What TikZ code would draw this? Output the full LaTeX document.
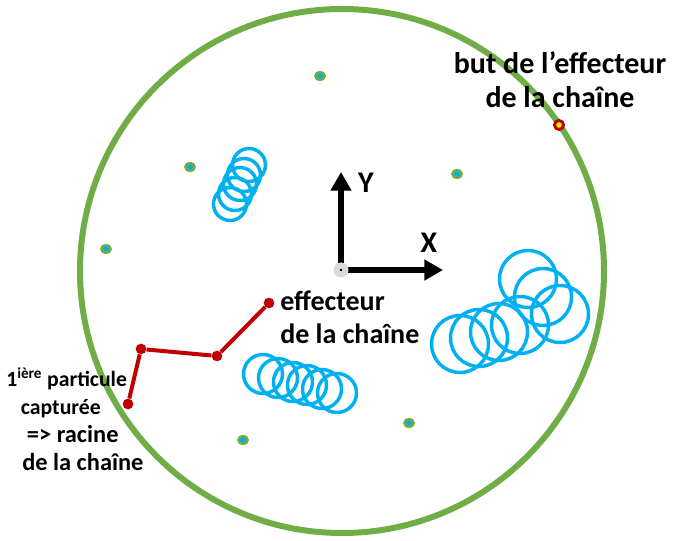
\documentclass[tikz,border=0pt]{standalone}
\usepackage{fontspec}
\setmainfont{Carlito}
\usepackage{xcolor}
\usepackage{tikz}
\usetikzlibrary{arrows.meta}

\definecolor{ringgreen}{HTML}{70AD47}
\definecolor{partblue}{HTML}{00B0F0}
\definecolor{chainred}{HTML}{C00000}
\definecolor{origingrey}{HTML}{D9D9D9}

\tikzset{
  lbl/.style={font=\fontsize{21}{24.5}\selectfont\bfseries, inner sep=0pt},
  goallbl/.style={font=\fontsize{22.5}{25.5}\selectfont\bfseries, inner sep=0pt},
  smalllbl/.style={font=\fontsize{16.3}{21}\selectfont\bfseries, inner sep=0pt},
  axis/.style={line width=4.5pt, -{Triangle[length=14pt,width=15pt]}},
  joint/.style={circle, fill=chainred, inner sep=0pt, minimum size=8pt},
  chain/.style={chainred, line width=3pt},
  swarm/.style={partblue, line width=2.6pt},
}

\begin{document}
\begin{tikzpicture}[x=0.75pt,y=-0.75pt]
		\useasboundingbox (0,0) rectangle (685,541);
		% search space
		\draw[ringgreen, line width=4.5pt] (342,271) circle (262);
		% particles (small)
		\fill[ringgreen] (320,76) ellipse (6 and 5);   \fill[partblue] (320,76) ellipse (3 and 2.5);
		\fill[ringgreen] (190,167) ellipse (6 and 5);  \fill[partblue] (190,167) ellipse (3 and 2.5);
		\fill[ringgreen] (457,174) ellipse (6 and 5);  \fill[partblue] (457,174) ellipse (3 and 2.5);
		\fill[ringgreen] (106,249) ellipse (6 and 5);  \fill[partblue] (106,249) ellipse (3 and 2.5);
		\fill[ringgreen] (409,423) ellipse (6 and 5);  \fill[partblue] (409,423) ellipse (3 and 2.5);
		\fill[ringgreen] (243,440) ellipse (6 and 5);  \fill[partblue] (243,440) ellipse (3 and 2.5);
		% swarms
		\draw[swarm] (249,165) circle (16.5);
		\draw[swarm] (244,175) circle (16.5);
		\draw[swarm] (240,184) circle (16.5);
		\draw[swarm] (235,194) circle (16.5);
		\draw[swarm] (230,204) circle (16.5);
		\draw[swarm] (263,374) circle (19.5);
		\draw[swarm] (278,378) circle (19.5);
		\draw[swarm] (293,382) circle (19.5);
		\draw[swarm] (307,385) circle (19.5);
		\draw[swarm] (322,389) circle (19.5);
		\draw[swarm] (337,393) circle (19.5);
		\draw[swarm] (528,279) circle (28.5);
		\draw[swarm] (543,297) circle (28.5);
		\draw[swarm] (560,314) circle (28.5);
		\draw[swarm] (520,325) circle (28.5);
		\draw[swarm] (499,332) circle (28.5);
		\draw[swarm] (479,338) circle (28.5);
		\draw[swarm] (460,344) circle (28.5);
		% frame
		\coordinate (O) at (341,270);
		\coordinate (xend) at (443,270);
		\coordinate (yend) at (341,172);
		\draw[axis] (O) -- (xend);
		\draw[axis] (O) -- (yend);
		\fill[origingrey] (O) circle (7.5);
		\fill[black] (O) circle (1.3);
		\node[goallbl] (xlab) at (429,243) {X};
		\node[goallbl] (ylab) at (366,183) {Y};
		% chain
		\node[joint] (root) at (128,404) {};
		\node[joint] (j1) at (141,349) {};
		\node[joint] (j2) at (217,356) {};
		\node[joint] (eff) at (269,303) {};
		\draw[chain] (root) -- (j1) -- (j2) -- (eff);
		% goal
		\draw[chainred, fill=yellow, line width=2.2pt] (559,125) circle (4.5);
		% labels
		\node[lbl, anchor=west, align=left] (efflab) at (280,317) {effecteur\\de la chaîne};
		\node[goallbl, align=center] (goallab) at (560,80) {but de l’effecteur\\de la chaîne};
		\node[smalllbl, anchor=west, align=left] (rootlab) at (6,419) {1\textsuperscript{ière} particule\\
			\hspace*{11pt}capturée\\
			\hspace*{15.5pt}{\fontsize{18.3}{21}\selectfont => racine}\\
			\hspace*{12pt}{\fontsize{18.3}{21}\selectfont de la chaîne}};
	\end{tikzpicture}
\end{document}
